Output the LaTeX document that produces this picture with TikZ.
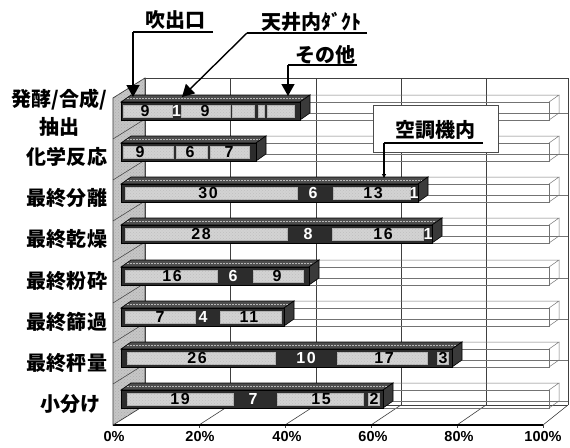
\documentclass[tikz,border=0pt]{standalone}
\usepackage{fontspec}
\setmainfont{Liberation Sans}
\newfontfamily\jp{Noto Sans CJK JP}
\newfontfamily\numf{Liberation Sans}[LetterSpace=10]
\usetikzlibrary{arrows.meta,patterns}
\definecolor{bardark}{HTML}{2C2C2C}
\definecolor{bartop}{HTML}{4E4E4E}
\definecolor{barside}{HTML}{3A3A3A}
\definecolor{lightseg}{HTML}{D3D3D3}
\definecolor{wallgray}{HTML}{C6C6C6}
\tikzset{
  cat/.style={font=\jp\bfseries\fontsize{20}{22}\selectfont, inner sep=0pt},
  axl/.style={font=\bfseries\fontsize{14.5}{16}\selectfont, inner sep=0pt},
  dnum/.style={font=\numf\bfseries\fontsize{16}{17}\selectfont, text=black, inner sep=0pt},
  wnum/.style={dnum, text=white},
  grid/.style={draw=black!75, line width=0.6pt},
  boxline/.style={draw=black!55, line width=0.5pt},
  frontface/.style={fill=bardark, draw=black, line width=0.7pt},
  topface/.style={fill=bartop, draw=black, line width=0.6pt},
  sideface/.style={fill=barside, draw=black, line width=0.6pt},
  topspeck/.style={draw=gray!55, line width=0.9pt, dash pattern=on 2pt off 1pt},
  lseg/.style={fill=lightseg, draw=gray!60, line width=0.4pt,
    postaction={pattern=crosshatch dots, pattern color=gray!50}},
  callout/.style={draw=black, line width=1.4pt},
  tip/.style={-{Triangle[width=13pt,length=12pt]}},
  lbl/.style={font=\jp\bfseries\fontsize{20}{22}\selectfont, inner sep=0pt},
}
\newcommand\wbox[2]{% T, E : open remainder box
  \draw[boxline] (#2,#1) rectangle (549,{#1+18});
  \draw[boxline] (#2,#1) -- ({#2+10},{#1-7}) -- (559,{#1-7}) -- (549,#1);
  \draw[boxline] (559,{#1-7}) -- (559,{#1+11}) -- (549,{#1+18});
  \draw[boxline] ({#2+10},{#1+11}) -- (568,{#1+11});
}
\newcommand\dbar[2]{% T, E : dark 3D bar
  \filldraw[topface] (121,#1) -- (131,{#1-7}) -- ({#2+10},{#1-7}) -- (#2,#1) -- cycle;
  \filldraw[sideface] (#2,#1) -- ({#2+10},{#1-7}) -- ({#2+10},{#1+11}) -- (#2,{#1+18}) -- cycle;
  \filldraw[frontface] (121,#1) rectangle (#2,{#1+18});
  \draw[topspeck] (127,{#1-3.5}) -- ({#2+4},{#1-3.5});
}
\newcommand\lsg[3]{% T, a, b : light inset segment
  \filldraw[lseg] (#2,{#1+3}) rectangle (#3,{#1+15});
}
\begin{document}
\begin{tikzpicture}[x=1pt,y=-1pt]
\useasboundingbox (0,0) rectangle (570,447);
% back wall
\draw[grid] (145,405) -- (145,78) -- (568,78) -- (568,405);
\foreach \xx in {230,316,401,486} \draw[grid] (\xx,78) -- (\xx,405);
% floor
\draw[grid] (145,405) -- (568,405);
\foreach \xf/\xb in {199/230,285/316,371/401,457/486,543/568}
  \draw[grid] (\xf,425) -- (\xb,405);
\foreach \xf in {199,285,371,457,543} \draw[grid] (\xf,425) -- (\xf,428);
\draw[black, line width=1.2pt] (113,425) -- (543,425);
% left wall
\filldraw[fill=wallgray, draw=black!80, line width=0.7pt,
  postaction={pattern=crosshatch dots, pattern color=gray!65}]
  (113,425) -- (145,405) -- (145,78) -- (113,98) -- cycle;
\foreach \yf in {139,180,221,262,303,343,384}
  \draw[gray!45!black, line width=0.5pt] (113,\yf) -- (145,{\yf-20});
% remainder boxes
\wbox{102}{300}
\wbox{143}{256}
\wbox{184}{418}
\wbox{225}{432}
\wbox{267}{309}
\wbox{308}{284}
\wbox{349}{452}
\wbox{390}{383}
% callout box (covers grid)
\filldraw[fill=white, draw=black!70, line width=0.8pt] (373,105) rectangle (498,152);
% bars
\dbar{102}{300}
\lsg{102}{123}{172}\lsg{102}{181}{230}\lsg{102}{232}{254}\lsg{102}{258}{264}\lsg{102}{267}{294}
\node[dnum] (r1a) at (145,111) {9};
\node[wnum] (r1b) at (176.5,111) {1};
\node[dnum] (r1c) at (205,111) {9};
\dbar{143}{256}
\lsg{143}{123}{173}\lsg{143}{176}{207}\lsg{143}{210}{249}
\node[dnum] (r2a) at (140,152) {9};
\node[dnum] (r2b) at (190,152) {6};
\node[dnum] (r2c) at (229,152) {7};
\dbar{184}{418}
\lsg{184}{125}{297}\lsg{184}{333}{410}
\node[dnum] (r3a) at (208,193) {30};
\node[wnum] (r3b) at (313,193) {6};
\node[dnum] (r3c) at (373,193) {13};
\node[wnum] (r3d) at (414,193) {1};
\dbar{225}{432}
\lsg{225}{125}{287}\lsg{225}{332}{423}
\node[dnum] (r4a) at (201,234) {28};
\node[wnum] (r4b) at (308,234) {8};
\node[dnum] (r4c) at (383,234) {16};
\node[wnum] (r4d) at (428,234) {1};
\dbar{267}{309}
\lsg{267}{125}{217}\lsg{267}{253}{303}
\node[dnum] (r5a) at (172,276) {16};
\node[wnum] (r5b) at (233,276) {6};
\node[dnum] (r5c) at (277,276) {9};
\dbar{308}{284}
\lsg{308}{125}{195}\lsg{308}{220}{281}
\node[dnum] (r6a) at (160,317) {7};
\node[wnum] (r6b) at (203,317) {4};
\node[dnum] (r6c) at (249,317) {11};
\dbar{349}{452}
\lsg{349}{127}{275}\lsg{349}{337}{427}\lsg{349}{437}{448}
\node[dnum] (r7a) at (197,358) {26};
\node[wnum] (r7b) at (306,358) {10};
\node[dnum] (r7c) at (384,358) {17};
\node[dnum] (r7d) at (443,358) {3};
\dbar{390}{383}
\lsg{390}{127}{233}\lsg{390}{277}{363}\lsg{390}{368}{379}
\node[dnum] (r8a) at (180,399) {19};
\node[wnum] (r8b) at (253,399) {7};
\node[dnum] (r8c) at (321,399) {15};
\node[dnum] (r8d) at (374,399) {2};
% category labels
\node[cat] (k1a) at (59,100) {発酵/合成/};
\node[cat] (k1b) at (59,127) {抽出};
\node[cat] (k2) at (67,157) {化学反応};
\node[cat] (k3) at (67,198) {最終分離};
\node[cat] (k4) at (67,239) {最終乾燥};
\node[cat] (k5) at (67,281) {最終粉砕};
\node[cat] (k6) at (67,322) {最終篩過};
\node[cat] (k7) at (67,363) {最終秤量};
\node[cat] (k8) at (70,404) {小分け};
% axis labels
\node[axl] (p0) at (114,437) {0\%};
\node[axl] (p20) at (200,437) {20\%};
\node[axl] (p40) at (287,437) {40\%};
\node[axl] (p60) at (373,437) {60\%};
\node[axl] (p80) at (459,437) {80\%};
\node[axl] (p100) at (543,437) {100\%};
% callouts
\node[lbl] (c1) at (175,20) {吹出口};
\coordinate (c1r) at (213,32);
\coordinate (c1l) at (133,32);
\coordinate (t1) at (133,97);
\draw[callout] (c1r) -- (c1l);
\draw[callout, tip] (c1l) -- (t1);
\node[lbl] (c2) at (311,22) {天井内ﾀﾞｸﾄ};
\coordinate (c2r) at (367,33);
\coordinate (c2l) at (247,33);
\coordinate (t2) at (182,97);
\draw[callout] (c2r) -- (c2l);
\draw[callout, tip] (c2l) -- (t2);
\node[lbl] (c3) at (325,55) {その他};
\coordinate (c3r) at (357,65);
\coordinate (c3l) at (288,65);
\coordinate (t3) at (288,96);
\draw[callout] (c3r) -- (c3l);
\draw[callout, tip] (c3l) -- (t3);
\node[lbl] (c4) at (435,130) {空調機内};
\coordinate (c4r) at (483,143);
\coordinate (c4l) at (384,143);
\coordinate (t4) at (384,178);
\draw[callout] (c4r) -- (c4l);
\draw[callout, line width=1.2pt, -{Triangle[width=4pt,length=4pt]}] (c4l) -- (t4);
\end{tikzpicture}
\end{document}
